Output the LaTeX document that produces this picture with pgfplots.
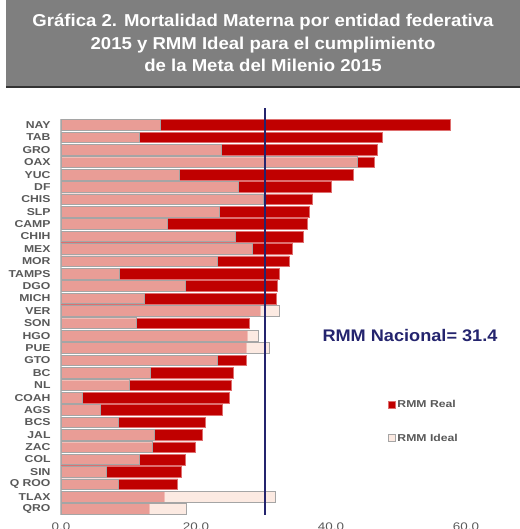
\documentclass[border=0pt]{standalone}
\usepackage{pgfplots}
\pgfplotsset{compat=1.18}
\usepackage{pgfplotstable}
\usepackage{fontspec}
\setmainfont{Liberation Sans}
\newfontfamily\lblfont{Liberation Sans}[FakeStretch=1.22]
\newfontfamily\titlefont{Liberation Sans}[FakeStretch=1.08]
\definecolor{realred}{RGB}{192,0,0}
\definecolor{realedge}{RGB}{222,110,110}
\definecolor{idealfill}{RGB}{251,225,214}
\definecolor{idealedge}{RGB}{165,165,165}
\definecolor{navy}{RGB}{36,36,110}
\definecolor{txtgray}{RGB}{89,89,89}
\definecolor{titlegray}{RGB}{127,127,127}
\pgfplotstableread{
idx real ideal
0 57.7 14.7
1 47.6 11.6
2 46.8 23.7
3 46.4 43.9
4 43.3 17.5
5 40.0 26.3
6 37.3 30.0
7 36.8 23.5
8 36.5 15.8
9 35.9 25.9
10 34.3 28.3
11 33.8 23.1
12 32.3 8.6
13 32.1 18.5
14 31.9 12.3
15 29.6 32.4
16 27.9 11.1
17 27.6 29.2
18 27.5 30.9
19 27.4 23.1
20 25.6 13.3
21 25.2 10.1
22 25.0 3.2
23 23.9 5.9
24 21.4 8.5
25 20.9 13.8
26 19.9 13.6
27 18.4 11.6
28 17.8 6.8
29 17.3 8.5
30 15.3 31.8
31 13.1 18.6
}\datatable
\begin{document}
\begin{tikzpicture}
\useasboundingbox (0bp,0bp) rectangle (520bp,529bp);
% title box
\fill[titlegray] (6bp,529bp) rectangle (520bp,442bp);
\draw[black!80, line width=1.4bp] (6bp,442bp) -- (520bp,442bp);
\node[anchor=base, text=white, font=\titlefont\fontsize{17.2bp}{20bp}\selectfont\bfseries] at (263bp,502bp) {Gráfica 2. Mortalidad Materna por entidad federativa};
\node[anchor=base, text=white, font=\titlefont\fontsize{17.2bp}{20bp}\selectfont\bfseries] at (263bp,479bp) {2015 y RMM Ideal para el cumplimiento};
\node[anchor=base, text=white, font=\titlefont\fontsize{17.2bp}{20bp}\selectfont\bfseries] at (263bp,457bp) {de la Meta del Milenio 2015};
\begin{axis}[
  at={(61bp,410.2bp)}, anchor=north west,
  scale only axis, width=405bp, height=396.5bp,
  xmin=0, xmax=60, ymin=-0.5, ymax=31.5,
  y dir=reverse,
  xbar, bar width=10.7bp,
  clip=false,
  separate axis lines,
  axis x line*=bottom, axis y line*=left,
  x axis line style={draw=none},
  y axis line style={draw={rgb,255:red,190;green,190;blue,190}, line width=1.5bp, -},
  major tick length=0pt,
  xtick={0,20,40,60},
  xticklabel style={font=\lblfont\fontsize{11bp}{13bp}\selectfont, text=txtgray, yshift=-4bp},
  /pgf/number format/.cd, fixed, fixed zerofill, precision=1, assume math mode=true,
  /pgfplots/.cd,
  ytick={0,...,31},
  yticklabels={NAY,TAB,GRO,OAX,YUC,DF,CHIS,SLP,CAMP,CHIH,MEX,MOR,TAMPS,DGO,MICH,VER,SON,HGO,PUE,GTO,BC,NL,COAH,AGS,BCS,JAL,ZAC,COL,SIN,Q ROO,TLAX,QRO},
  yticklabel style={font=\lblfont\fontsize{10bp}{12bp}\selectfont\bfseries, text=txtgray, xshift=-7bp},
  legend image code/.code={\draw[#1] (0bp,-3.5bp) rectangle (7bp,3.5bp);},
  legend style={at={(axis description cs:0.80,0.30)}, anchor=north west, draw=none, fill=none,
    font=\lblfont\fontsize{10bp}{12bp}\selectfont\bfseries, text=txtgray, row sep=22bp,
    nodes={inner sep=1.5bp}},
  legend cell align=left,
]
\addplot[bar shift=0pt, fill=realred, draw=realedge, line width=0.6bp] table[x=real, y=idx] {\datatable};
\addlegendentry{RMM Real}
\addplot[bar shift=0pt, fill=idealfill, fill opacity=0.7, draw=idealedge, line width=0.8bp] table[x=ideal, y=idx] {\datatable};
\addlegendentry{RMM Ideal}
\addplot[forget plot, sharp plot, no markers, navy, line width=2bp] coordinates {(30.2,-1.37) (30.2,31.48)};
\end{axis}
\node[anchor=base west, text=navy, font=\titlefont\fontsize{16.8bp}{20bp}\selectfont\bfseries] at (319bp,187bp) {RMM Nacional= 31.4};
\end{tikzpicture}
\end{document}
